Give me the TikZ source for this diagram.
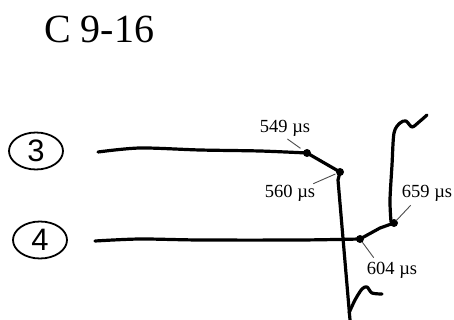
\documentclass[tikz,border=0pt]{standalone}
\usepackage{fontspec}
\setmainfont{Liberation Serif}
\newfontfamily\digitfont{Liberation Sans}
\usetikzlibrary{shapes.geometric}
\tikzset{>=stealth}
\tikzset{
  trace/.style={line width=3.2pt, line join=round, line cap=round},
  junction/.style={circle, fill, inner sep=0pt, minimum size=8pt},
  timelabel/.style={font=\fontsize{18.5}{19}\selectfont, inner sep=1pt},
  leader/.style={draw=black!70, line width=0.9pt},
  channel/.style={draw, ellipse, line width=1.8pt, minimum width=54pt,
    minimum height=37pt, inner sep=0pt, font=\digitfont\fontsize{31}{32}\selectfont}
}
\begin{document}
\begin{tikzpicture}[x=1pt,y=-1pt]
		\useasboundingbox (0,0) rectangle (454,320);
		\node (title) at (99,29) {\fontsize{40}{42}\selectfont C 9-16};
		\node[channel] (ch3) at (36,151) {3};
		\node[channel] (ch4) at (40,240) {4};
		% junction points on the traces
		\coordinate (d549) at (307,153);
		\coordinate (d560) at (340,172);
		\coordinate (d604) at (360,239);
		\coordinate (d659) at (394,223);
		% trace 3
		\draw[trace] plot[smooth] coordinates {(98,152) (140,148) (200,150) (260,151) (307,153)}
		  -- (d560) -- (338,180) -- (341,215) -- (344,250) -- (347,285) -- (350,320);
		\draw[trace] plot[smooth] coordinates {(349,313) (355,300) (362,289) (367,287) (372,293) (382,294)};
		% trace 4
		\draw[trace] plot[smooth] coordinates {(95,241) (140,239) (200,240) (300,240) (360,239)}
		  -- (380,228) -- (d659);
		\draw[trace] plot[smooth] coordinates {(391,222) (390,200) (392,165) (394,133) (400,123)
		  (406,121) (412,127) (419,122) (427,115)};
		\foreach \j in {d549,d560,d604,d659}
		  \node[junction] at (\j) {};
		% time labels
		\node[timelabel] (l549) at (285,128) {549 µs};
		\node[timelabel] (l560) at (290,193) {560 µs};
		\node[timelabel] (l659) at (427,193) {659 µs};
		\node[timelabel] (l604) at (392,270) {604 µs};
		\begin{scope}[every path/.style={leader}]
		  \draw[shorten <=3pt, shorten >=8pt] (l549.south) -- (d549);
		  \draw[shorten >=5pt] ([xshift=-3pt]l560.north east) -- (d560);
		  \draw[shorten >=3pt] ([xshift=10pt,yshift=-3pt]l659.south west) -- (d659);
		  \draw[shorten >=4pt] ([xshift=8pt,yshift=3pt]l604.north west) -- (d604);
		\end{scope}
	\end{tikzpicture}
\end{document}
